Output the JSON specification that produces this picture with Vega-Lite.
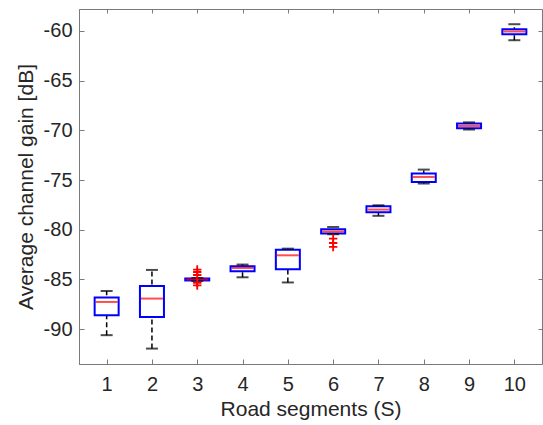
{
  "$schema": "https://vega.github.io/schema/vega-lite/v6.json",
  "width": 463,
  "height": 355,
  "autosize": "none",
  "padding": {"left": 79, "top": 9, "right": 1, "bottom": 61},
  "background": "white",
  "config": {
    "view": {"stroke": "#7a7a7a", "strokeWidth": 1},
    "font": "Liberation Sans",
    "axis": {
      "labelFont": "Liberation Sans",
      "titleFont": "Liberation Sans",
      "labelFontSize": 20,
      "titleFontSize": 21,
      "titleFontWeight": "normal",
      "labelColor": "#262626",
      "titleColor": "#262626",
      "domainColor": "#7a7a7a",
      "tickColor": "#7a7a7a",
      "grid": false
    }
  },
  "datasets": {
    "boxes": [
      {"seg": 1, "lo": -90.6, "q1": -88.6, "med": -87.26, "q3": -86.82, "hi": -86.16},
      {"seg": 2, "lo": -91.95, "q1": -88.77, "med": -86.92, "q3": -85.65, "hi": -84.04},
      {"seg": 3, "lo": -85.15, "q1": -85.1, "med": -85.0, "q3": -84.9, "hi": -84.85},
      {"seg": 4, "lo": -84.78, "q1": -84.17, "med": -83.84, "q3": -83.67, "hi": -83.5},
      {"seg": 5, "lo": -85.3, "q1": -83.98, "med": -82.57, "q3": -82.0, "hi": -81.9},
      {"seg": 6, "lo": -80.45, "q1": -80.38, "med": -80.18, "q3": -79.95, "hi": -79.72},
      {"seg": 7, "lo": -78.6, "q1": -78.24, "med": -77.97, "q3": -77.64, "hi": -77.54},
      {"seg": 8, "lo": -75.35, "q1": -75.19, "med": -74.69, "q3": -74.35, "hi": -73.95},
      {"seg": 9, "lo": -69.92, "q1": -69.79, "med": -69.56, "q3": -69.32, "hi": -69.2},
      {"seg": 10, "lo": -60.94, "q1": -60.33, "med": -60.06, "q3": -59.83, "hi": -59.33}
    ],
    "outliers": [
      {"seg": 3, "v": -84.0},
      {"seg": 3, "v": -84.25},
      {"seg": 3, "v": -84.55},
      {"seg": 3, "v": -85.35},
      {"seg": 3, "v": -85.6},
      {"seg": 6, "v": -80.9},
      {"seg": 6, "v": -81.33},
      {"seg": 6, "v": -81.73}
    ]
  },
  "layer": [
    {
      "data": {"name": "boxes"},
      "mark": {"type": "rule", "color": "black", "strokeWidth": 1.5, "strokeDash": [5, 3]},
      "encoding": {
        "x": {"field": "seg", "type": "quantitative", "scale": {"domain": [0.5, 10.5], "nice": false, "zero": false},
          "axis": {"values": [1,2,3,4,5,6,7,8,9,10], "title": "Road segments (S)", "tickSize": -5, "labelPadding": 15, "titlePadding": 4, "labelFlush": false}},
        "y": {"field": "lo", "type": "quantitative", "scale": {"domain": [-93.5, -57.8], "nice": false, "zero": false},
          "axis": {"values": [-90, -85, -80, -75, -70, -65, -60], "title": "Average channel gain [dB]", "tickSize": -5, "labelPadding": 12, "titlePadding": 7, "labelFlush": false,
            "labelExpr": "'-' + abs(datum.value)"}},
        "y2": {"field": "hi"}
      }
    },
    {
      "data": {"name": "boxes"},
      "mark": {"type": "bar", "size": 24, "fill": "white", "stroke": "#0000ff", "strokeWidth": 2},
      "encoding": {
        "x": {"field": "seg", "type": "quantitative",
          "axis": {"orient": "top", "values": [1,2,3,4,5,6,7,8,9,10], "labels": false, "title": null, "tickSize": -4, "domain": false}},
        "y": {"field": "q1", "type": "quantitative",
          "axis": {"orient": "right", "values": [-90, -85, -80, -75, -70, -65, -60], "labels": false, "title": null, "tickSize": -4, "domain": false}},
        "y2": {"field": "q3"}
      }
    },
    {
      "data": {"name": "boxes"},
      "mark": {"type": "tick", "orient": "horizontal", "color": "black", "size": 12, "thickness": 2},
      "encoding": {
        "x": {"field": "seg", "type": "quantitative", "axis": null},
        "y": {"field": "lo", "type": "quantitative", "axis": null}
      }
    },
    {
      "data": {"name": "boxes"},
      "mark": {"type": "tick", "orient": "horizontal", "color": "black", "size": 12, "thickness": 2},
      "encoding": {
        "x": {"field": "seg", "type": "quantitative", "axis": null},
        "y": {"field": "hi", "type": "quantitative", "axis": null}
      }
    },
    {
      "data": {"name": "boxes"},
      "mark": {"type": "tick", "orient": "horizontal", "color": "#ff0000", "size": 22, "thickness": 2},
      "encoding": {
        "x": {"field": "seg", "type": "quantitative", "axis": null},
        "y": {"field": "med", "type": "quantitative", "axis": null}
      }
    },
    {
      "data": {"name": "outliers"},
      "mark": {"type": "point", "shape": "M-1,0L1,0M0,-1L0,1", "filled": false, "color": "#ff0000", "size": 70, "strokeWidth": 1.8, "opacity": 1},
      "encoding": {
        "x": {"field": "seg", "type": "quantitative", "axis": null},
        "y": {"field": "v", "type": "quantitative", "axis": null}
      }
    }
  ],
  "resolve": {"axis": {"x": "independent", "y": "independent"}}
}
